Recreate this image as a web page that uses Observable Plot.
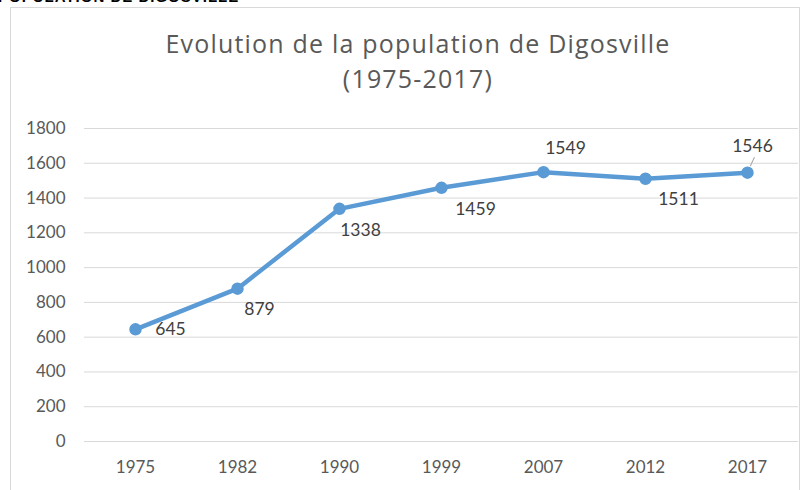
<!DOCTYPE html>
<html><head><meta charset="utf-8">
<script src="https://cdn.jsdelivr.net/npm/d3@7"></script>
<script src="https://cdn.jsdelivr.net/npm/@observablehq/plot@0.6"></script>
<style>
body{margin:0;background:#fff;font-family:Lato,"Open Sans",sans-serif;}
#wrap{position:relative;width:811px;height:490px;overflow:hidden;background:#fff;}
#cut{position:absolute;left:-2px;top:-12px;font:bold 15px "Liberation Sans",Arial,sans-serif;color:#000;letter-spacing:1px;white-space:nowrap;}
#frame{position:absolute;left:10px;top:7px;width:790px;height:500px;border:1px solid #d9d9d9;box-sizing:border-box;}
.t{position:absolute;left:0;width:836px;text-align:center;color:#595959;font-family:"Open Sans",sans-serif;font-size:25px;letter-spacing:1.2px;line-height:1;white-space:nowrap;}
#chart{position:absolute;left:0;top:110px;}
</style></head>
<body><div id="wrap">
<div id="cut">POPULATION DE DIGOSVILLE</div>
<div id="frame"></div>
<div class="t" style="top:31px">Evolution de la population de Digosville</div>
<div class="t" style="top:66px">(1975-2017)</div>
<div id="chart"></div>
</div>
<script>
const years = ["1975","1982","1990","1999","2007","2012","2017"];
const population = [645, 879, 1338, 1459, 1549, 1511, 1546];
const yTicks = [0,200,400,600,800,1000,1200,1400,1600,1800];
// label offsets (style)
const labelDx = [35, 22, 21, 34, 22, 33, 5];
const labelDy = [0, 21, 22, 22, -24, 21, -26];

const data = years.map((y,i)=>({year:y, value:population[i], dx:labelDx[i], dy:labelDy[i]}));
const blue = "#5B9BD5";
const leader = {draw(ctx, l){ ctx.moveTo(0,0); ctx.lineTo(0,-l); }};

const chart = Plot.plot({
  width: 811, height: 380,
  marginTop: 18, marginBottom: 49, marginLeft: 84, marginRight: 13,
  style: {fontFamily: "Lato, 'Open Sans', sans-serif", fontSize: "17px", color: "#595959", background: "transparent"},
  x: {type: "point", domain: years, padding: 0.5, label: null},
  y: {domain: [0, 1800], ticks: yTicks, label: null},
  marks: [
    Plot.ruleY(yTicks, {stroke: "#d9d9d9", strokeWidth: 1, strokeOpacity: 1}),
    Plot.axisY({ticks: yTicks, tickSize: 0, tickPadding: 19, label: null, tickFormat: d => String(d), fontSize: 17}),
    Plot.axisX({tickSize: 0, tickPadding: 19, label: null, fontSize: 17}),
    Plot.line(data, {x: "year", y: "value", stroke: blue, strokeWidth: 4.5, strokeLinejoin: "round"}),
    Plot.dot(data, {x: "year", y: "value", r: 5.5, fill: blue, stroke: blue}),
    Plot.vector(data.filter(d=>d.year==="2017"), {x: "year", y: "value", length: 9, rotate: 25, anchor: "start", dx: 3, dy: -7, shape: leader, stroke: "#a6a6a6", strokeWidth: 1}),
    ...data.map(d => Plot.text([d], {x: "year", y: "value", text: d => String(d.value), dx: d.dx, dy: d.dy, fill: "#404040", fontSize: 17.5}))
  ]
});
document.getElementById("chart").appendChild(chart);
</script>
</body></html>
